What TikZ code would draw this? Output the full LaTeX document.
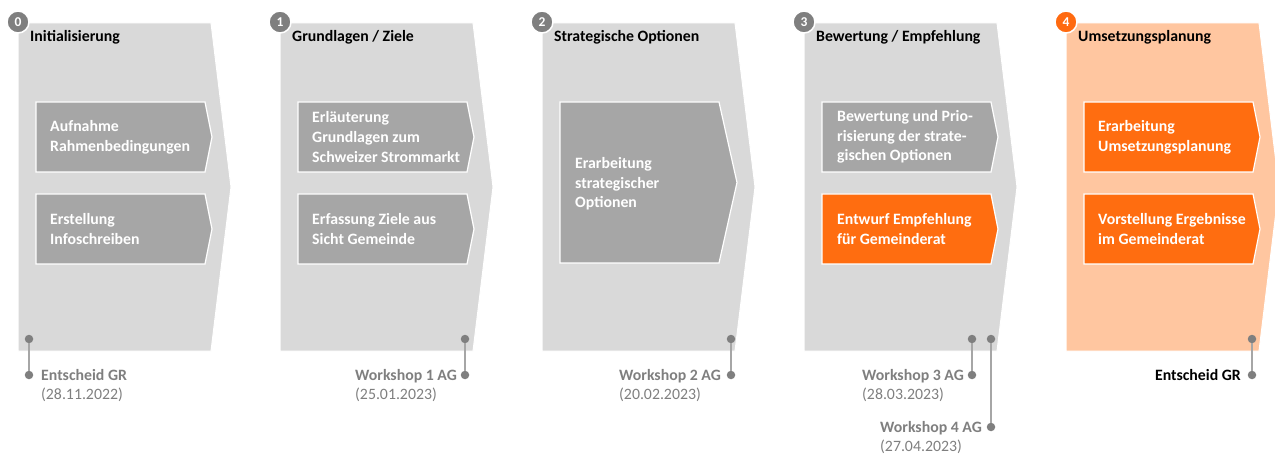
\documentclass[tikz,border=0pt]{standalone}
\usepackage{fontspec}
\setmainfont{Carlito}
\definecolor{bigGray}{HTML}{D9D9D9}
\definecolor{boxGray}{HTML}{A6A6A6}
\definecolor{orangeBox}{HTML}{FF6D10}
\definecolor{bigOrange}{HTML}{FFC6A0}
\definecolor{badgeGray}{HTML}{7F7F7F}
\definecolor{badgeOrange}{HTML}{FF6A10}
\definecolor{labelGray}{HTML}{7F7F7F}
\definecolor{lineGray}{HTML}{A6A6A6}
\newcommand\chevron[6]{\path[#1] (#2,#4) -- ({#3-#6},#4) -- (#3,{(#4+#5)/2}) -- ({#3-#6},#5) -- (#2,#5) -- cycle;}
\tikzset{
  bigchev/.style={fill=bigGray, draw=white, line width=1pt},
  bigchevO/.style={fill=bigOrange, draw=white, line width=1pt},
  innerbox/.style={fill=boxGray, draw=white, line width=1.2pt},
  innerboxO/.style={fill=orangeBox, draw=white, line width=1.2pt},
  boxtext/.style={anchor=west, align=left, text=white, inner sep=0pt,
    font=\fontsize{15.8}{19.6}\selectfont\bfseries},
  titletext/.style={anchor=base west, inner sep=0pt, text=black,
    font=\fontsize{15.8}{19}\selectfont\bfseries},
  badge/.style={circle, fill=badgeGray, draw=white, line width=1.5pt, minimum size=22pt,
    inner sep=0pt, text=white, font=\fontsize{13.5}{13.5}\selectfont\bfseries},
  badgeO/.style={badge, fill=badgeOrange},
  dot/.style={circle, fill=badgeGray, minimum size=8.5pt, inner sep=0pt},
  tline/.style={draw=lineGray, line width=2pt},
  msname/.style={anchor=base west, inner sep=0pt, text=labelGray,
    font=\fontsize{15.8}{19}\selectfont\bfseries},
  msdate/.style={anchor=base west, inner sep=0pt, text=labelGray,
    font=\fontsize{15.8}{19}\selectfont},
}
\begin{document}
\begin{tikzpicture}[x=1pt,y=-1pt]
\useasboundingbox (0,0) rectangle (1275,457);
\clip (0,0) rectangle (1275,457);
% big chevrons
\chevron{bigchev}{18}{231}{23}{351}{20}
\chevron{bigchev}{280}{493}{23}{351}{20}
\chevron{bigchev}{542}{755}{23}{351}{20}
\chevron{bigchev}{804}{1017}{23}{351}{20}
\chevron{bigchevO}{1066}{1279}{23}{351}{20}
% badges
\node[badge] (b0) at (18,22) {0};
\node[badge] (b1) at (280,22) {1};
\node[badge] (b2) at (542,22) {2};
\node[badge] (b3) at (804,22) {3};
\node[badgeO] (b4) at (1066,22) {4};
% titles
\node[titletext] (t0) at (30,42) {Initialisierung};
\node[titletext] (t1) at (292,42) {Grundlagen / Ziele};
\node[titletext] (t2) at (554,42) {Strategische Optionen};
\node[titletext] (t3) at (816,42) {Bewertung / Empfehlung};
\node[titletext] (t4) at (1078,42) {Umsetzungsplanung};
% inner boxes
\chevron{innerbox}{36}{212}{102}{172}{7}
\chevron{innerbox}{36}{212}{194}{264}{7}
\chevron{innerbox}{298}{474}{102}{172}{7}
\chevron{innerbox}{298}{474}{194}{264}{7}
\chevron{innerbox}{560}{737}{102}{263}{18}
\chevron{innerbox}{822}{998}{102}{172}{7}
\chevron{innerboxO}{822}{998}{194}{264}{7}
\chevron{innerboxO}{1084}{1260}{102}{172}{7}
\chevron{innerboxO}{1084}{1260}{194}{264}{7}
% box texts
\node[boxtext] (a0) at (50,137) {Aufnahme\\Rahmenbedingungen};
\node[boxtext] (c0) at (50,229) {Erstellung\\Infoschreiben};
\node[boxtext] (a1) at (312,137) {Erläuterung\\Grundlagen zum\\Schweizer Strommarkt};
\node[boxtext] (c1) at (312,229) {Erfassung Ziele aus\\Sicht Gemeinde};
\node[boxtext] (a2) at (575,184) {Erarbeitung\\strategischer\\Optionen};
\node[boxtext] (a3) at (837,137) {Bewertung und Prio-\\risierung der strate-\\gischen Optionen};
\node[boxtext] (c3) at (837,229) {Entwurf Empfehlung\\für Gemeinderat};
\node[boxtext] (a4) at (1098,137) {Erarbeitung\\Umsetzungsplanung};
\node[boxtext] (c4) at (1098,229) {Vorstellung Ergebnisse\\im Gemeinderat};
% milestones
\node[dot] (d0t) at (29,339) {};
\node[dot] (d0b) at (29,375) {};
\node[dot] (d1t) at (465,339) {};
\node[dot] (d1b) at (465,375) {};
\node[dot] (d2t) at (731,339) {};
\node[dot] (d2b) at (731,375) {};
\node[dot] (d3t) at (972,339) {};
\node[dot] (d3b) at (972,375) {};
\node[dot] (d4t) at (991,339) {};
\node[dot] (d4b) at (991,427) {};
\node[dot] (d5t) at (1252,339) {};
\node[dot] (d5b) at (1252,375) {};
\draw[tline] (d0t) -- (d0b);
\draw[tline] (d1t) -- (d1b);
\draw[tline] (d2t) -- (d2b);
\draw[tline] (d3t) -- (d3b);
\draw[tline] (d4t) -- (d4b);
\draw[tline] (d5t) -- (d5b);
% milestone labels
\node[msname] (m0) at (41,380) {Entscheid GR};
\node[msdate] (m0d) at (41,399) {(28.11.2022)};
\node[msname] (m1) at (355,380) {Workshop 1 AG};
\node[msdate] (m1d) at (355,399) {(25.01.2023)};
\node[msname] (m2) at (619,380) {Workshop 2 AG};
\node[msdate] (m2d) at (619,399) {(20.02.2023)};
\node[msname] (m3) at (862,380) {Workshop 3 AG};
\node[msdate] (m3d) at (862,399) {(28.03.2023)};
\node[msname] (m4) at (880,432) {Workshop 4 AG};
\node[msdate] (m4d) at (880,451) {(27.04.2023)};
\node[msname, anchor=base east, text=black] (m5) at (1241,380) {Entscheid GR};
\end{tikzpicture}
\end{document}
